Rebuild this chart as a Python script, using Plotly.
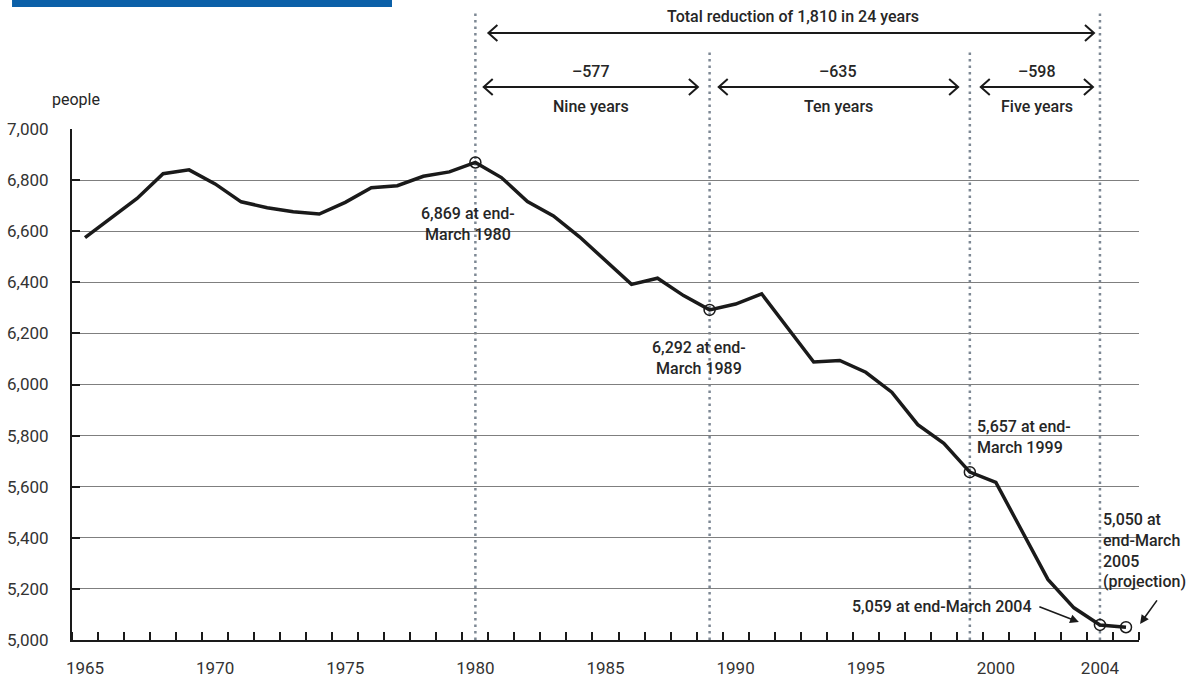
import plotly.graph_objects as go

# Staff numbers at end of March each year (2005 is a projection)
years = list(range(1965, 2006))
staff = [
    6575, 6650, 6728, 6825, 6840, 6785, 6715, 6692, 6676, 6667,
    6713, 6770, 6778, 6815, 6832, 6869, 6810, 6716, 6660, 6578,
    6485, 6392, 6416, 6348, 6292, 6315, 6355, 6222, 6088, 6094,
    6048, 5970, 5843, 5770, 5657, 5617, 5425, 5237, 5126, 5059,
    5050,
]
marked_years = [1980, 1989, 1999, 2004, 2005]
x_tick_years = [1965, 1970, 1975, 1980, 1985, 1990, 1995, 2000, 2004]
y_ticks = list(range(5000, 7001, 200))

# Reduction periods: (start, end, change label, span label)
periods = [
    (1980, 1989, "\u2013577", "Nine years"),
    (1989, 1999, "\u2013635", "Ten years"),
    (1999, 2004, "\u2013598", "Five years"),
]
total_label = "Total reduction of 1,810 in 24 years"

FONT = "Roboto, Liberation Sans, sans-serif"
INK = "#1a1a1a"
TXT = "#262626"
DOT = "#7d8894"

value_of = dict(zip(years, staff))

fig = go.Figure()
fig.add_trace(go.Scatter(
    x=years, y=staff, mode="lines",
    line=dict(color=INK, width=3.5), hoverinfo="skip", showlegend=False,
))
fig.add_trace(go.Scatter(
    x=marked_years, y=[value_of[y] for y in marked_years], mode="markers",
    marker=dict(symbol="circle-open", size=11, color=INK, line=dict(width=1.5, color=INK)),
    hoverinfo="skip", showlegend=False,
))

shapes = []
annotations = []

# Dotted guide lines at the period boundaries
guide_tops = {1980: 1.229, 1989: 1.151, 1999: 1.151, 2004: 1.229}
for yr, top in guide_tops.items():
    shapes.append(dict(
        type="line", xref="x", yref="paper", x0=yr, x1=yr, y0=0, y1=top,
        line=dict(color=DOT, width=2.5, dash="2.5px,4px"), layer="between",
    ))


def double_arrow(x0, x1, y):
    """Horizontal double-headed arrow with open chevron heads."""
    shapes.append(dict(type="line", xref="x", yref="paper", x0=x0, x1=x1, y0=y, y1=y,
                       line=dict(color=INK, width=2)))
    shapes.append(dict(type="path", xref="x", yref="paper", xsizemode="pixel", ysizemode="pixel",
                       xanchor=x0, yanchor=y, path="M 9,8 L 0,0 L 9,-8",
                       line=dict(color=INK, width=2)))
    shapes.append(dict(type="path", xref="x", yref="paper", xsizemode="pixel", ysizemode="pixel",
                       xanchor=x1, yanchor=y, path="M -9,8 L 0,0 L -9,-8",
                       line=dict(color=INK, width=2)))


label_font = dict(family=FONT, size=16, color=TXT, weight=500)

# Overall reduction
double_arrow(1980.5, 2003.77, 1.188)
annotations.append(dict(xref="x", yref="paper", x=(1980 + 2004) / 2 + 0.2, y=1.221,
                        yanchor="middle", text=total_label, showarrow=False, font=label_font))

# Individual periods
pad = {1980: 0.32, 1989: 0.35, 1999: 0.42}
end_pad = {1989: 0.45, 1999: 0.45, 2004: 0.27}
for start, end, change, span in periods:
    a = start + pad[start]
    b = end - end_pad[end]
    mid = (a + b) / 2
    double_arrow(a, b, 1.0822)
    annotations.append(dict(xref="x", yref="paper", x=mid, y=1.1135, yanchor="middle",
                            text=change, showarrow=False, font=label_font))
    annotations.append(dict(xref="x", yref="paper", x=mid, y=1.045, yanchor="middle",
                            text=span, showarrow=False, font=label_font))

# Point labels
annotations += [
    dict(xref="x", yref="y", x=1979.73, y=6628, text="6,869 at end-<br>March 1980",
         showarrow=False, align="center", font=label_font),
    dict(xref="x", yref="y", x=1988.58, y=6104, text="6,292 at end-<br>March 1989",
         showarrow=False, align="center", font=label_font),
    dict(xref="x", yref="y", x=1999.2, y=5794, text="5,657 at end-<br>March 1999",
         showarrow=False, align="left", xanchor="left", font=label_font),
    dict(xref="x", yref="y", x=2004.05, y=5352, text="5,050 at<br>end-March<br>2005<br>(projection)",
         showarrow=False, align="left", xanchor="left", font=label_font),
    dict(xref="x", yref="y", x=2001.45, y=5130, text="5,059 at end-March 2004",
         showarrow=False, xanchor="right", font=label_font),
    # pointer arrows
    dict(xref="x", yref="y", x=2003.19, y=5070, ax=-41, ay=-16, text="",
         showarrow=True, arrowhead=2, arrowsize=1.1, arrowwidth=1.6, arrowcolor=INK),
    dict(xref="paper", yref="y", x=1.001, y=5063, ax=18, ay=-25, text="",
         showarrow=True, arrowhead=2, arrowsize=1.1, arrowwidth=1.6, arrowcolor=INK),
    # unit label
    dict(xref="paper", yref="paper", x=0.0037, y=1.0587, xanchor="center", yanchor="middle",
         text="people", showarrow=False, font=dict(family=FONT, size=16, color=TXT)),
]

# Header band
shapes.append(dict(type="rect", xref="paper", yref="paper", x0=-0.0562, x1=0.2999,
                   y0=1.2387, y1=1.28, fillcolor="#0b60a8", line=dict(width=0)))

fig.update_layout(
    width=1187, height=679,
    margin=dict(l=72, r=48, t=129, b=39, pad=0),
    paper_bgcolor="white", plot_bgcolor="white",
    font=dict(family=FONT, size=17, color=TXT),
    shapes=shapes, annotations=annotations,
    showlegend=False,
)
fig.update_xaxes(
    range=[1964.5, 2005.5], tickmode="array", tickvals=x_tick_years,
    ticktext=[str(v) for v in x_tick_years], ticks="", showgrid=False, zeroline=False,
    showline=True, linecolor=INK, linewidth=2, ticklabelstandoff=12, automargin=False,
    tickfont=dict(family=FONT, size=17, color="#333"),
    minor=dict(tickmode="array", tickvals=[y + 0.5 for y in range(1964, 2006)],
               ticks="inside", ticklen=8, tickwidth=2, tickcolor=INK, showgrid=False),
)
fig.update_yaxes(
    range=[5000, 7000], tickmode="array", tickvals=y_ticks, tickformat=",d",
    ticks="inside", ticklen=8, tickwidth=2, tickcolor=INK,
    showgrid=True, gridcolor="#7f7f7f", gridwidth=1, zeroline=False,
    showline=True, linecolor=INK, linewidth=2, ticklabelstandoff=18, automargin=False,
    tickfont=dict(family=FONT, size=17, color="#333"),
)

fig.write_html("out.html")
